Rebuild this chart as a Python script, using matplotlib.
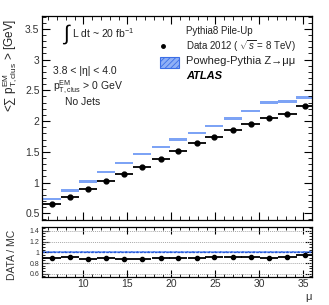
import matplotlib
matplotlib.use("Agg")
import matplotlib.pyplot as plt
from matplotlib.patches import Rectangle
from matplotlib.ticker import MultipleLocator, FixedLocator
import numpy as np

plt.rcParams['font.family'] = ['Liberation Sans', 'DejaVu Sans']
plt.rcParams['mathtext.fontset'] = 'custom'
plt.rcParams['mathtext.rm'] = 'Liberation Sans'
plt.rcParams['mathtext.it'] = 'Liberation Sans:italic'
plt.rcParams['mathtext.bf'] = 'Liberation Sans:bold'
plt.rcParams['hatch.linewidth'] = 0.6

# ---- data ----
mu_centers = [6.4, 8.5, 10.5, 12.6, 14.6, 16.7, 18.8, 20.8, 22.9, 24.9, 27.0, 29.0, 31.1, 33.2, 35.2]
mu_halfwidth = 1.03
data_vals = [0.647, 0.772, 0.89, 1.017, 1.136, 1.255, 1.39, 1.516, 1.636, 1.745, 1.854, 1.957, 2.055, 2.11, 2.245]
mc_vals = [0.733, 0.87, 1.02, 1.17, 1.316, 1.46, 1.58, 1.70, 1.81, 1.92, 2.04, 2.16, 2.30, 2.316, 2.38]
ratio_vals = [0.90, 0.91, 0.88, 0.89, 0.88, 0.87, 0.89, 0.89, 0.90, 0.91, 0.91, 0.91, 0.90, 0.91, 0.95]
x_ticks = [10, 15, 20, 25, 30, 35]
main_yticks = [0.5, 1, 1.5, 2, 2.5, 3, 3.5]
ratio_yticks = [0.6, 0.8, 1.0, 1.2, 1.4]

W, H = 329, 305
fig = plt.figure(figsize=(W / 100, H / 100), dpi=100)
L, R = 42.3, 311.5
ax = fig.add_axes([L / W, (H - 220) / H, (R - L) / W, 204 / H])
axr = fig.add_axes([L / W, (H - 277) / H, (R - L) / W, 50 / H])

xmin, xmax = 5.34, 35.93
tickc = '#333333'

# MC boxes
mc_h = 0.02
ax.bar(mu_centers, [mc_h * 2] * len(mc_vals), width=2 * mu_halfwidth,
       bottom=np.array(mc_vals) - mc_h, color='#7da3f5', edgecolor='none',
       hatch='//////', linewidth=0)
ax.errorbar(mu_centers, data_vals, xerr=mu_halfwidth, fmt='o', color='black',
            ms=3.5, elinewidth=1.3, capsize=0)

ax.set_xlim(xmin, xmax)
ax.set_ylim(0.39, 3.71)
ax.yaxis.set_major_locator(FixedLocator(main_yticks))
ax.set_yticklabels([('%g' % t) for t in main_yticks])
ax.yaxis.set_minor_locator(MultipleLocator(0.1))
ax.xaxis.set_major_locator(FixedLocator(x_ticks))
ax.xaxis.set_minor_locator(MultipleLocator(1))
ax.tick_params(axis='x', labelbottom=False)
for a in (ax, axr):
    a.tick_params(which='both', direction='in', top=True, right=True,
                  colors='black', labelcolor=tickc)
    a.tick_params(which='major', length=6, width=0.8)
    a.tick_params(which='minor', length=3, width=0.6)
    for s in a.spines.values():
        s.set_linewidth(0.9)
ax.tick_params(axis='y', labelsize=7.5, pad=2)

# legend (manual)
ax.text(0.535, 0.928, 'Pythia8 Pile-Up', transform=ax.transAxes, fontsize=7,
        va='center', ha='left', color='#222222')
ax.plot([0.448], [0.853], 'o', color='black', ms=2.5, transform=ax.transAxes)
ax.text(0.535, 0.853, r'Data 2012 ( $\sqrt{s}$ = 8 TeV)', transform=ax.transAxes,
        fontsize=7, va='center', ha='left', color='#222222')
ax.add_patch(Rectangle((0.437, 0.745), 0.071, 0.054, transform=ax.transAxes,
                       facecolor='#8fb0f6', edgecolor='#3b6ee6', hatch='//////',
                       linewidth=0.8))
ax.text(0.535, 0.777, 'Powheg-Pythia Z→μμ', transform=ax.transAxes,
        fontsize=8, va='center', ha='left', color='#222222')
ax.text(0.535, 0.706, 'ATLAS', transform=ax.transAxes, fontsize=8,
        fontweight='bold', fontstyle='italic', va='center', ha='left')

# left annotations
ax.text(0.072, 0.912, r'$\int$', transform=ax.transAxes, fontsize=15,
        va='center', ha='left')
ax.text(0.112, 0.915, r'L dt ~ 20 fb$^{-1}$', transform=ax.transAxes,
        fontsize=7.5, va='center', ha='left', color='#222222')
ax.text(0.04, 0.73, '3.8 < |η| < 4.0', transform=ax.transAxes,
        fontsize=7.5, va='center', ha='left', color='#222222')
ax.text(0.04, 0.652, r'p$^{\mathrm{EM}}_{\mathrm{T,clus}}$ > 0 GeV', transform=ax.transAxes,
        fontsize=7.5, va='center', ha='left', color='#222222')
ax.text(0.084, 0.58, 'No Jets', transform=ax.transAxes,
        fontsize=7.5, va='center', ha='left', color='#222222')

fig.text(10 / W, 1 - 65 / H, r'<$\sum$ p$^{\mathrm{EM}}_{\mathrm{T,clus}}$ > [GeV]',
         rotation=90, fontsize=8.5, va='center', ha='center', color='#222222')

# ratio panel
for g in [0.6, 0.8, 1.2, 1.4]:
    axr.axhline(g, color='#aaaaaa', lw=0.7, ls=(0, (1, 1)))
axr.fill_between([xmin, xmax], 0.985, 1.02, facecolor='#8fb0f6', edgecolor='#3b6ee6',
                 hatch='//////', linewidth=0)
axr.axhline(1.0, color='#2a5ad8', lw=0.9, ls=(0, (2, 1)))
axr.errorbar(mu_centers, ratio_vals, xerr=mu_halfwidth, fmt='o', color='black',
             ms=3, elinewidth=1.3, capsize=0)
axr.set_xlim(xmin, xmax)
axr.set_ylim(0.54, 1.47)
axr.xaxis.set_major_locator(FixedLocator(x_ticks))
axr.xaxis.set_minor_locator(MultipleLocator(1))
axr.yaxis.set_major_locator(FixedLocator(ratio_yticks))
axr.set_yticklabels([('%g' % t) for t in ratio_yticks])
axr.yaxis.set_minor_locator(MultipleLocator(0.05))
axr.tick_params(axis='y', labelsize=5, pad=2)
axr.tick_params(axis='x', labelsize=7.5, pad=1.5)
axr.tick_params(which='major', length=5)
axr.tick_params(which='minor', length=2.5)
fig.text(12 / W, 1 - 255 / H, 'DATA / MC', rotation=90, fontsize=7.5,
         va='center', ha='center', color='#333333')
fig.text(308 / W, 1 - 297 / H, 'μ', fontsize=8, va='center', ha='center',
         color='#333333')

fig.savefig('out.png', dpi=100)
